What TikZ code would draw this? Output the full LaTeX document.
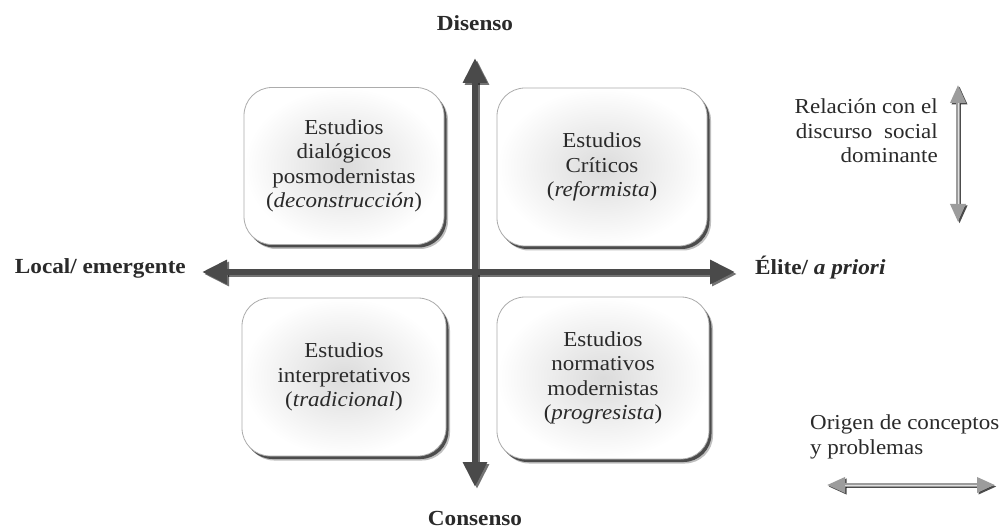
\documentclass[tikz,border=0pt]{standalone}
\usepackage{fontspec}
\setmainfont{Liberation Serif}[FakeStretch=1.08]
\usetikzlibrary{arrows.meta,shadows}

\definecolor{axisgray}{HTML}{4A4A4A}
\definecolor{inkgray}{HTML}{2A2A2A}
\definecolor{keygray}{HTML}{9C9C9C}

\begin{document}
\begin{tikzpicture}[x=1pt,y=-1pt,
  quadrant/.style={draw=gray!65, line width=0.8pt, rounded corners=28pt,
    inner color=gray!28, outer color=white, align=center, text=inkgray,
    font=\fontsize{21.3}{24.5}\selectfont,
    drop shadow={shadow xshift=4pt, shadow yshift=-4.5pt, opacity=.25, fill=black},
    drop shadow={shadow xshift=2.5pt, shadow yshift=-3pt, opacity=.6, fill=black}},
  axislabel/.style={inner sep=0pt, text=inkgray, font=\fontsize{21.5}{24}\selectfont\bfseries},
  keylabel/.style={inner sep=0pt, text=inkgray, font=\fontsize{21.3}{24.5}\selectfont},
  axis/.style={draw=axisgray, line width=6pt,
    {Triangle[width=23pt,length=25pt]}-{Triangle[width=23pt,length=25pt]}},
  axisshadow/.style={axis, draw=black, opacity=.55,
    transform canvas={xshift=2pt, yshift=-2pt}},
  keyarrow/.style={draw=keygray, line width=3.5pt,
    {Triangle[width=15pt,length=18pt]}-{Triangle[width=15pt,length=18pt]}},
  keyshadow/.style={keyarrow, draw=black, opacity=.7,
    transform canvas={xshift=1.5pt, yshift=-1.5pt}},
  keycore/.style={draw=gray!25, line width=1pt, shorten <=18pt, shorten >=18pt}
]
% page
\fill[white] (0,0) rectangle (1004,529);
\useasboundingbox (0,0) rectangle (1004,529);

% axis end points
\coordinate (vtop) at (475,58);
\coordinate (vbot) at (475,487);
\coordinate (hleft) at (202,272);
\coordinate (hright) at (735,272);

% quadrants
\node[quadrant, minimum width=200pt, minimum height=157pt] (tl) at (344,166)
  {Estudios\\dialógicos\\posmodernistas\\(\textit{deconstrucción})};
\node[quadrant, minimum width=210pt, minimum height=158pt] (tr) at (602,167)
  {Estudios\\Críticos\\(\textit{reformista})};
\node[quadrant, minimum width=204pt, minimum height=158pt] (bl) at (344,377)
  {Estudios\\interpretativos\\(\textit{tradicional})};
\node[quadrant, minimum width=212pt, minimum height=162pt] (br) at (603,378)
  {Estudios\\normativos\\modernistas\\(\textit{progresista})};

% main axes
\draw[axisshadow] (vbot) -- (vtop);
\draw[axisshadow] (hleft) -- (hright);
\draw[axis] (vbot) -- (vtop);
\draw[axis] (hleft) -- (hright);

% axis labels
\node[axislabel] (dis) at (475,23) {Disenso};
\node[axislabel] (con) at (475,518) {Consenso};
\node[axislabel, anchor=east] (loc) at (186,268) {Local/ emergente};
\node[axislabel, anchor=west] (eli) at (755,268) {Élite/ \textit{a priori}};

% key: vertical dimension
\coordinate (ktop) at (958,85);
\coordinate (kbot) at (958,222);
\draw[keyshadow] (ktop) -- (kbot);
\draw[keyarrow] (ktop) -- (kbot);
\draw[keycore] (ktop) -- (kbot);
\node[keylabel, align=right, anchor=east] (krel) at (938,131)
  {Relación con el\\discurso\hspace{0.55em}social\\dominante};

% key: horizontal dimension
\coordinate (kleft) at (827,485);
\coordinate (kright) at (995,485);
\draw[keyshadow] (kleft) -- (kright);
\draw[keyarrow] (kleft) -- (kright);
\draw[keycore] (kleft) -- (kright);
\node[keylabel, align=left, anchor=west] (kori) at (810,437)
  {Origen de conceptos\\y problemas};
\end{tikzpicture}
\end{document}
